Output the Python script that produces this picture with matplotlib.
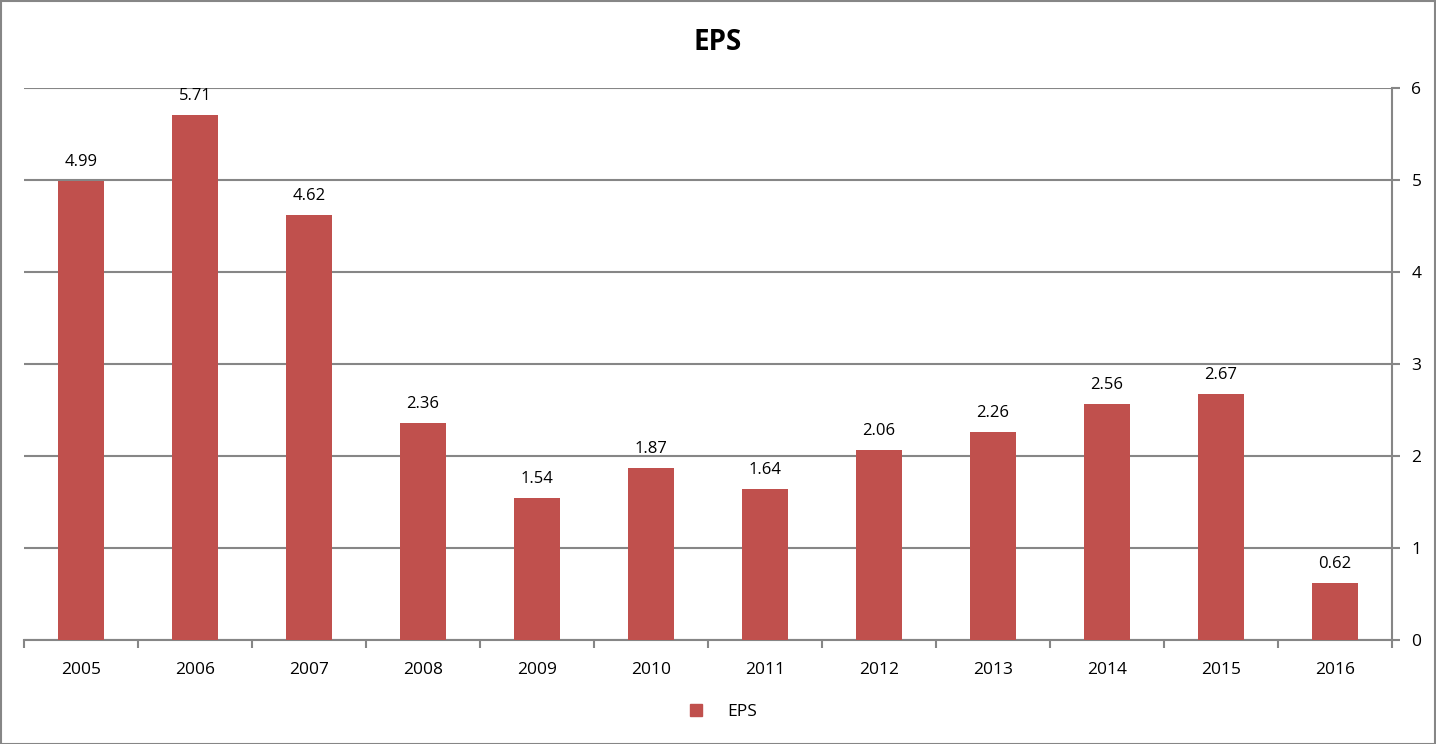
import matplotlib
matplotlib.use("Agg")
import matplotlib.pyplot as plt
from matplotlib.patches import Rectangle
from matplotlib.lines import Line2D

years = ["2005", "2006", "2007", "2008", "2009", "2010", "2011", "2012", "2013", "2014", "2015", "2016"]
eps = [4.99, 5.71, 4.62, 2.36, 1.54, 1.87, 1.64, 2.06, 2.26, 2.56, 2.67, 0.62]
yticks = [0, 1, 2, 3, 4, 5, 6]

plt.rcParams['font.family'] = ['Open Sans', 'DejaVu Sans']
W, H = 1436, 744
fig = plt.figure(figsize=(W / 100, H / 100), dpi=100)
fig.patches.append(Rectangle((0.5 / W, 0.5 / H), 1 - 1.5 / W, 1 - 1.5 / H, transform=fig.transFigure,
                             fill=False, edgecolor="#868686", linewidth=1.5))

ax = fig.add_axes([24 / W, 1 - 640 / H, (1392 - 24) / W, (640 - 88) / H])
gray = "#868686"
red = "#C0504D"
x = list(range(len(years)))
ax.bar(x, eps, width=0.4, color=red, zorder=3)
for xi, v in zip(x, eps):
    ax.text(xi, v + 0.12, f"{v:.2f}", ha="center", va="bottom", fontsize=12, color="#000000")

ax.set_xlim(-0.5, len(years) - 0.5)
ax.set_ylim(0, 6)
ax.set_yticks(yticks)
ax.yaxis.tick_right()
ax.yaxis.grid(True, color=gray, linewidth=1.5, zorder=0)
ax.set_axisbelow(True)
for s in ["top", "left"]:
    ax.spines[s].set_visible(False)
for s in ["right", "bottom"]:
    ax.spines[s].set_color(gray)
    ax.spines[s].set_linewidth(1.5)
ax.tick_params(axis="y", colors=gray, labelcolor="#000000", labelsize=12.5, length=6, width=1.5, pad=8)
ax.set_xticks([i - 0.5 for i in range(len(years) + 1)])
ax.set_xticklabels([])
ax.set_xticks(x, minor=True)
ax.set_xticklabels(years, minor=True)
ax.tick_params(axis="x", which="major", colors=gray, length=6, width=1.5)
ax.tick_params(axis="x", which="minor", length=0, labelsize=12.5, labelcolor="#000000", pad=16)

fig.text(0.5, 1 - 42 / H, "EPS", ha="center", va="center", fontsize=20, fontweight="bold")

handle = Line2D([], [], marker="s", linestyle="none", markersize=9, color=red)
fig.legend([handle], ["EPS"], loc="center", bbox_to_anchor=(0.5, 1 - 712 / H), frameon=False,
           fontsize=12.5, handletextpad=0.8)

fig.savefig("out.png", dpi=100)
